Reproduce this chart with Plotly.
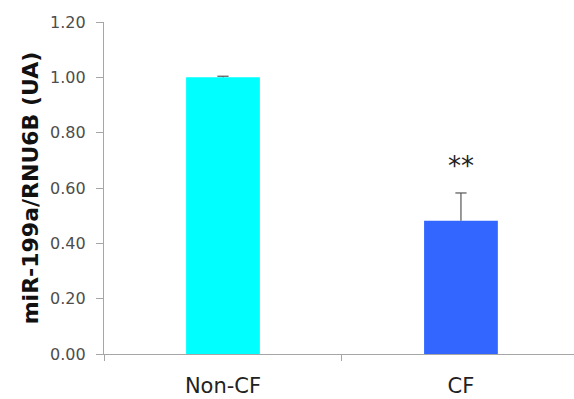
import plotly.graph_objects as go

categories = ["Non-CF", "CF"]
values = [1.00, 0.482]
errors = [0.004, 0.10]
colors = ["#00FFFF", "#3366FF"]
y_ticks = [0.0, 0.2, 0.4, 0.6, 0.8, 1.0, 1.2]
significance = "**"

FONT = "DejaVu Sans"

fig = go.Figure()
fig.add_trace(go.Bar(
    x=categories, y=values,
    marker=dict(color=colors, line=dict(width=0)),
    width=0.31,
))

# upper-only error bars (line from bar top to value+error, cap at top)
ex, ey = [], []
for c, v, e in zip(categories, values, errors):
    ex += [c, c, None]
    ey += [v, v + e, None]
fig.add_trace(go.Scatter(x=ex, y=ey, mode="lines",
                         line=dict(color="#555555", width=1.2), hoverinfo="skip"))
fig.add_trace(go.Scatter(x=categories, y=[v + e for v, e in zip(values, errors)], mode="markers",
                         marker=dict(symbol="line-ew", size=8,
                                     line=dict(color="#555555", width=1.2)),
                         hoverinfo="skip"))

fig.add_annotation(x="CF", y=0.68, text=significance, showarrow=False,
                   font=dict(family=FONT, size=26, color="#222222"), yanchor="middle")

fig.update_layout(
    width=574, height=399,
    margin=dict(l=104, r=0, t=22, b=45, autoexpand=False),
    plot_bgcolor="white", paper_bgcolor="white",
    showlegend=False,
    font=dict(family=FONT),
    xaxis=dict(range=[-0.5, 1.475], showline=True, linecolor="#A6A6A6", linewidth=1.3,
               ticks="outside", tickson="boundaries", ticklen=6, tickcolor="#A6A6A6",
               ticklabelstandoff=13,
               tickfont=dict(family=FONT, size=21, color="#222222"), showgrid=False, zeroline=False),
    yaxis=dict(range=[0, 1.2], tickvals=y_ticks, tickformat=".2f",
               showline=True, linecolor="#A6A6A6", linewidth=1.3,
               ticks="outside", ticklen=7, tickcolor="#A6A6A6",
               ticklabelstandoff=7,
               tickfont=dict(family=FONT, size=16, color="#4D4D4D"), showgrid=False, zeroline=False,
               title=dict(text="<b>miR-199a/RNU6B (UA)</b>", font=dict(family=FONT, size=22, color="#111111"),
                          standoff=5)),
)
fig.write_html("out.html", config={"displayModeBar": False},
               post_script="document.body.style.margin='0';document.body.style.overflow='hidden';")
